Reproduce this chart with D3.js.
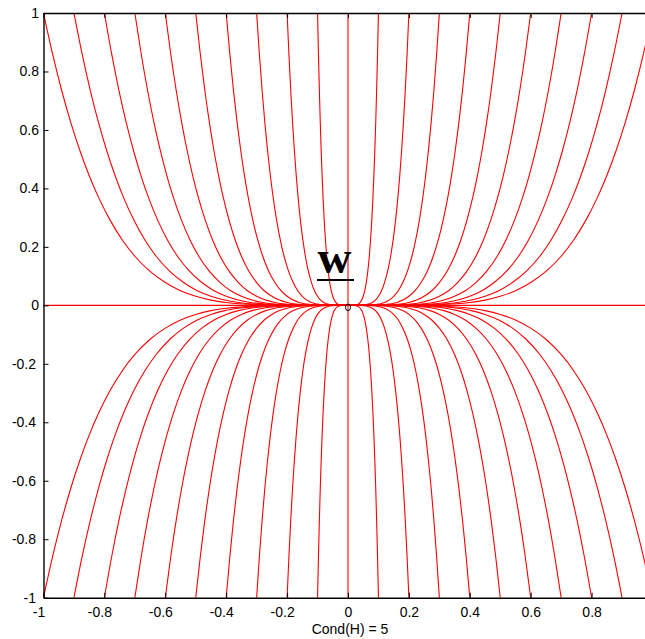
<!DOCTYPE html>
<html>
<head>
<meta charset="utf-8">
<script src="https://cdn.jsdelivr.net/npm/d3@7"></script>
<style>
  body { margin: 0; background: #fff; }
  text { font-family: "Liberation Sans", Arial, sans-serif; }
</style>
</head>
<body>
<div id="chart"></div>
<script>
const startX = [-1, -0.9, -0.8, -0.7, -0.6, -0.5, -0.4, -0.3, -0.2, -0.1, 0,
                0.1, 0.2, 0.3, 0.4, 0.5, 0.6, 0.7, 0.8, 0.9, 1];
const startY = [1, -1];
const axisStartX = [-1, 1];   // the two flat trajectories along y = 0

// shape of one trajectory (the x0 = -1 curve):
// fraction of the way to the border in x vs. fraction in y
const profileU = [0, 0.2, 0.3, 0.4, 0.45, 0.5, 0.55, 0.6, 0.65, 0.7, 0.74, 0.78,
                  0.82, 0.85, 0.88, 0.91, 0.94, 0.97, 1];
const profileV = [0, 0.0003, 0.0024, 0.01, 0.018, 0.031, 0.05, 0.078, 0.116, 0.168, 0.222, 0.289,
                  0.371, 0.444, 0.528, 0.624, 0.734, 0.859, 1];

const yTicks = [-1, -0.8, -0.6, -0.4, -0.2, 0, 0.2, 0.4, 0.6, 0.8, 1];
const xTicks = [-1, -0.8, -0.6, -0.4, -0.2, 0, 0.2, 0.4, 0.6, 0.8];
const xLabel = 'Cond(H) = 5';

const width = 645, height = 639;
const margin = { top: 13, left: 43.5 };
const plotW = 609, plotH = 584.7;

const svg = d3.select('#chart').append('svg')
  .attr('width', width)
  .attr('height', height);

const x = d3.scaleLinear().domain([-1, 1]).range([margin.left, margin.left + plotW]);
const y = d3.scaleLinear().domain([-1, 1]).range([margin.top + plotH, margin.top]);

// build the list of trajectories
const starts = [];
startY.forEach(y0 => startX.forEach(x0 => starts.push({ x0, y0 })));
axisStartX.forEach(x0 => starts.push({ x0, y0: 0 }));

const g = svg.append('g');

starts.forEach(s => {
  let pts = profileU.map((u, i) => [s.x0 * u, s.y0 * profileV[i]]);
  pts.sort((a, b) => a[0] - b[0]);
  const line = d3.line()
    .x(d => x(d[0]))
    .y(d => y(d[1]))
    .curve(s.x0 === 0 ? d3.curveLinear : d3.curveMonotoneX);
  g.append('path')
    .attr('d', line(pts))
    .attr('fill', 'none')
    .attr('stroke', '#ff0000')
    .attr('stroke-width', 1.1);
});

const fmt = d => String(d);

// axes with inward ticks
const yAxis = svg.append('g')
  .attr('transform', `translate(${margin.left},0)`)
  .call(d3.axisLeft(y).tickValues(yTicks).tickSize(-5).tickSizeOuter(0).tickPadding(4.5).tickFormat(fmt));

const xAxis = svg.append('g')
  .attr('transform', `translate(0,${margin.top + plotH})`)
  .call(d3.axisBottom(x).tickValues(xTicks).tickSize(-5).tickSizeOuter(0).tickPadding(9).tickFormat(fmt));

const topAxis = svg.append('g')
  .attr('transform', `translate(0,${margin.top})`)
  .call(d3.axisTop(x).tickValues(xTicks).tickSize(-5).tickSizeOuter(0).tickFormat(''));

[yAxis, xAxis, topAxis].forEach(a => {
  a.select('.domain').attr('stroke', '#000').attr('stroke-width', 1.4);
  a.selectAll('.tick line').attr('stroke', '#000').attr('stroke-width', 1);
  a.selectAll('.tick text')
    .attr('fill', '#000')
    .style('font-size', '14px')
    .style('font-family', '"Liberation Sans", Arial, sans-serif');
});
xAxis.selectAll('.tick text').attr('dx', d => d < 0 ? -5 : 0);
yAxis.selectAll('.tick text').attr('dx', d => d < 0 ? -3 : 0);

// x label
svg.append('text')
  .attr('x', x(0) + 2)
  .attr('y', 634)
  .attr('text-anchor', 'middle')
  .style('font-size', '14px')
  .text(xLabel);

// bold underlined w and the origin marker
svg.append('text')
  .attr('x', 334.5)
  .attr('y', 273)
  .attr('text-anchor', 'middle')
  .style('font-family', '"Liberation Serif", "Times New Roman", serif')
  .style('font-weight', 'bold')
  .style('font-size', '47px')
  .text('w');
svg.append('line')
  .attr('x1', 317).attr('x2', 354)
  .attr('y1', 280).attr('y2', 280)
  .attr('stroke', '#000').attr('stroke-width', 2);

svg.append('ellipse')
  .attr('cx', x(0)).attr('cy', y(0) + 2)
  .attr('rx', 2.5).attr('ry', 3.3)
  .attr('fill', 'none')
  .attr('stroke', '#000')
  .attr('stroke-width', 1);
</script>
</body>
</html>
